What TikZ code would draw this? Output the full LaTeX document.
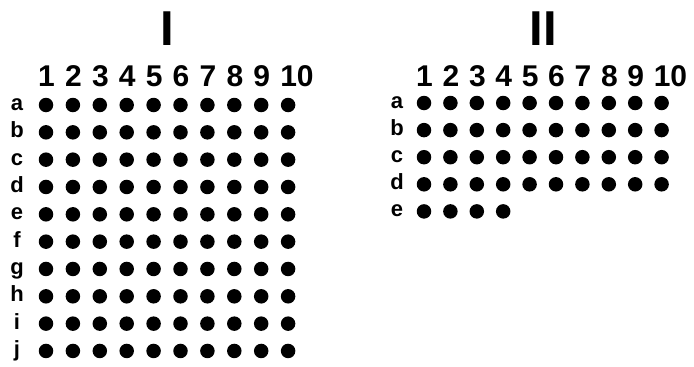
\documentclass[tikz,border=0pt]{standalone}
\usepackage{fontspec}
\setmainfont{Liberation Sans}
\begin{document}
\begin{tikzpicture}[x=1pt,y=-1pt,
  dot/.style={circle,fill=black,inner sep=0pt,minimum size=14.5pt},
  num/.style={font=\fontsize{30}{30}\selectfont\bfseries,anchor=base west,inner sep=0pt},
  lab/.style={font=\fontsize{22}{22}\selectfont\bfseries,anchor=base,inner sep=0pt},
  ttl/.style={font=\fontsize{49}{49}\selectfont\bfseries,anchor=base,inner sep=0pt}]
\useasboundingbox (0,0) rectangle (694,367);
% titles
\node[ttl] (tI) at (167,45) {I};
\node[ttl] (tII) at (543,45) {II};
% grid I
\foreach \c in {1,...,10}
  \node[num] (I-n\c) at ({46+26.9*(\c-1)-8},86) {\c};
\foreach \l [count=\r] in {a,b,c,d,e,f,g,h,i,j} {
  \node[lab] (I-l\l) at (17,{105+27.33*(\r-1)+5.5}) {\l};
  \foreach \c in {1,...,10}
    \node[dot] (I-\l\c) at ({46+26.9*(\c-1)},{105+27.33*(\r-1)}) {};
}
% grid II
\foreach \c in {1,...,10}
  \node[num] (II-n\c) at ({424+26.4*(\c-1)-8},86) {\c};
\foreach \l [count=\r] in {a,b,c,d} {
  \node[lab] (II-l\l) at (397,{103+27.1*(\r-1)+5.5}) {\l};
  \foreach \c in {1,...,10}
    \node[dot] (II-\l\c) at ({424+26.4*(\c-1)},{103+27.1*(\r-1)}) {};
}
\node[lab] (II-le) at (397,{103+27.1*4+5.5}) {e};
\foreach \c in {1,...,4}
  \node[dot] (II-e\c) at ({424+26.4*(\c-1)},{103+27.1*4}) {};
\end{tikzpicture}
\end{document}
